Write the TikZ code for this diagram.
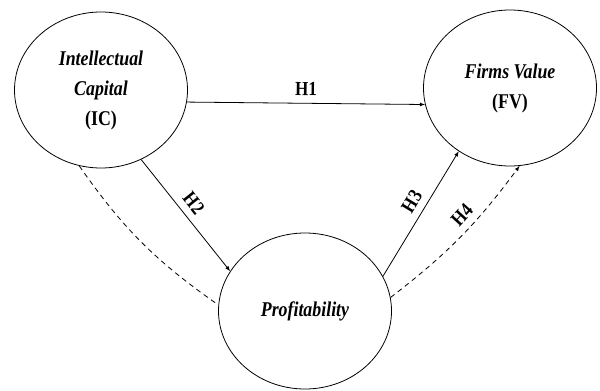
\documentclass[tikz,border=0pt]{standalone}
\usepackage{fontspec}
\setmainfont{Liberation Serif}
\usetikzlibrary{shapes.geometric}
\newcommand{\narrow}[1]{\scalebox{0.85}[1]{#1}}
\tikzset{
	var/.style={draw, ellipse, line width=0.8pt, minimum width=173pt, minimum height=156pt, inner sep=0pt, align=center, font=\fontsize{21}{30}\selectfont\bfseries},
	hyp/.style={font=\fontsize{20}{22}\selectfont\bfseries, sloped, above=6pt, inner sep=1pt},
}
\begin{document}
\begin{tikzpicture}[x=1pt, y=-1pt, >=latex, line width=0.8pt]
	\useasboundingbox (0,0) rectangle (600,391);
	
	\node[var] (ic) at (101, 90) {\narrow{\textit{Intellectual}}\\\narrow{\textit{Capital}}\\\narrow{(IC)}};
	\node[var] (fv) at (510, 88) {\narrow{\textit{Firms Value}}\\\narrow{(FV)}};
	\node[var] (pr) at (305, 311) {\narrow{\textit{Profitability}}};
	
	\draw[->] (ic.-8) -- node[hyp, pos=0.5] {\narrow{H1}} (fv.-169); % IC -> FV
	\draw[->] (ic.-60) -- node[hyp, pos=0.47] {\narrow{H2}} (pr.152); % IC -> Prof
	\draw[->] (pr.24) -- node[hyp, pos=0.54] {\narrow{H3}} (fv.-129); % Prof -> FV
	\draw[->, dash pattern=on 5pt off 4pt] (pr.9) to[bend right=8] node[hyp, pos=0.6] {\narrow{H4}} (fv.-83);
	\draw[dash pattern=on 5pt off 4pt] (ic.-106) to[bend right=10] (pr.176);
\end{tikzpicture}
\end{document}
